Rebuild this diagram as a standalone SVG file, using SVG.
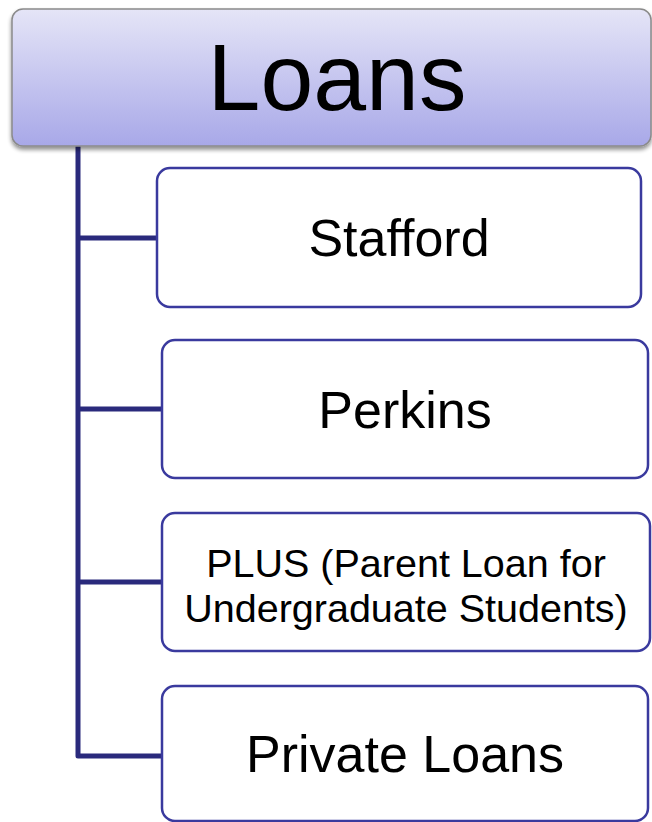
<svg xmlns="http://www.w3.org/2000/svg" width="652" height="822" viewBox="0 0 652 822">
<defs>
<linearGradient id="topGrad" x1="0" y1="0" x2="0" y2="1">
<stop offset="0" stop-color="#e5e5f7"/>
<stop offset="1" stop-color="#a8a8e8"/>
</linearGradient>
<filter id="shadow" x="-5%" y="-10%" width="110%" height="130%">
<feGaussianBlur in="SourceAlpha" stdDeviation="2"/>
<feOffset dx="0" dy="3" result="b"/>
<feComponentTransfer><feFuncA type="linear" slope="0.45"/></feComponentTransfer>
<feMerge><feMergeNode/><feMergeNode in="SourceGraphic"/></feMerge>
</filter>
</defs>
<style>
.child{fill:#ffffff;stroke:#3a3a9e;stroke-width:2.5}
.conn{fill:none;stroke:#2a2a7c;stroke-width:5;stroke-linejoin:round}
.t{font-family:"Liberation Sans",Arial,sans-serif;fill:#000000;text-anchor:middle}
</style>
<rect width="652" height="822" fill="#ffffff"/>
<g id="connectors">
<path class="conn" d="M78,146 V756 H162"/>
<path class="conn" d="M78,238 H157"/>
<path class="conn" d="M78,409 H162"/>
<path class="conn" d="M78,582 H162"/>
</g>
<g id="loans">
<rect x="12" y="9" width="639" height="137" rx="11" fill="url(#topGrad)" stroke="#8a8a8a" stroke-width="1.5" filter="url(#shadow)"/>
<text class="t" x="337" y="110" font-size="95">Loans</text>
</g>
<g id="stafford">
<rect class="child" x="157" y="168" width="484" height="139" rx="13"/>
<text class="t" x="399" y="256" font-size="52">Stafford</text>
</g>
<g id="perkins">
<rect class="child" x="162" y="340" width="486" height="138" rx="13"/>
<text class="t" x="405" y="428" font-size="52">Perkins</text>
</g>
<g id="plus">
<rect class="child" x="162" y="513" width="488" height="138" rx="13"/>
<text class="t" x="406" y="577" font-size="39.5">PLUS (Parent Loan for</text>
<text class="t" x="406" y="622" font-size="39.5">Undergraduate Students)</text>
</g>
<g id="private">
<rect class="child" x="162" y="686" width="486" height="135" rx="13"/>
<text class="t" x="405" y="772" font-size="52">Private Loans</text>
</g>
</svg>
